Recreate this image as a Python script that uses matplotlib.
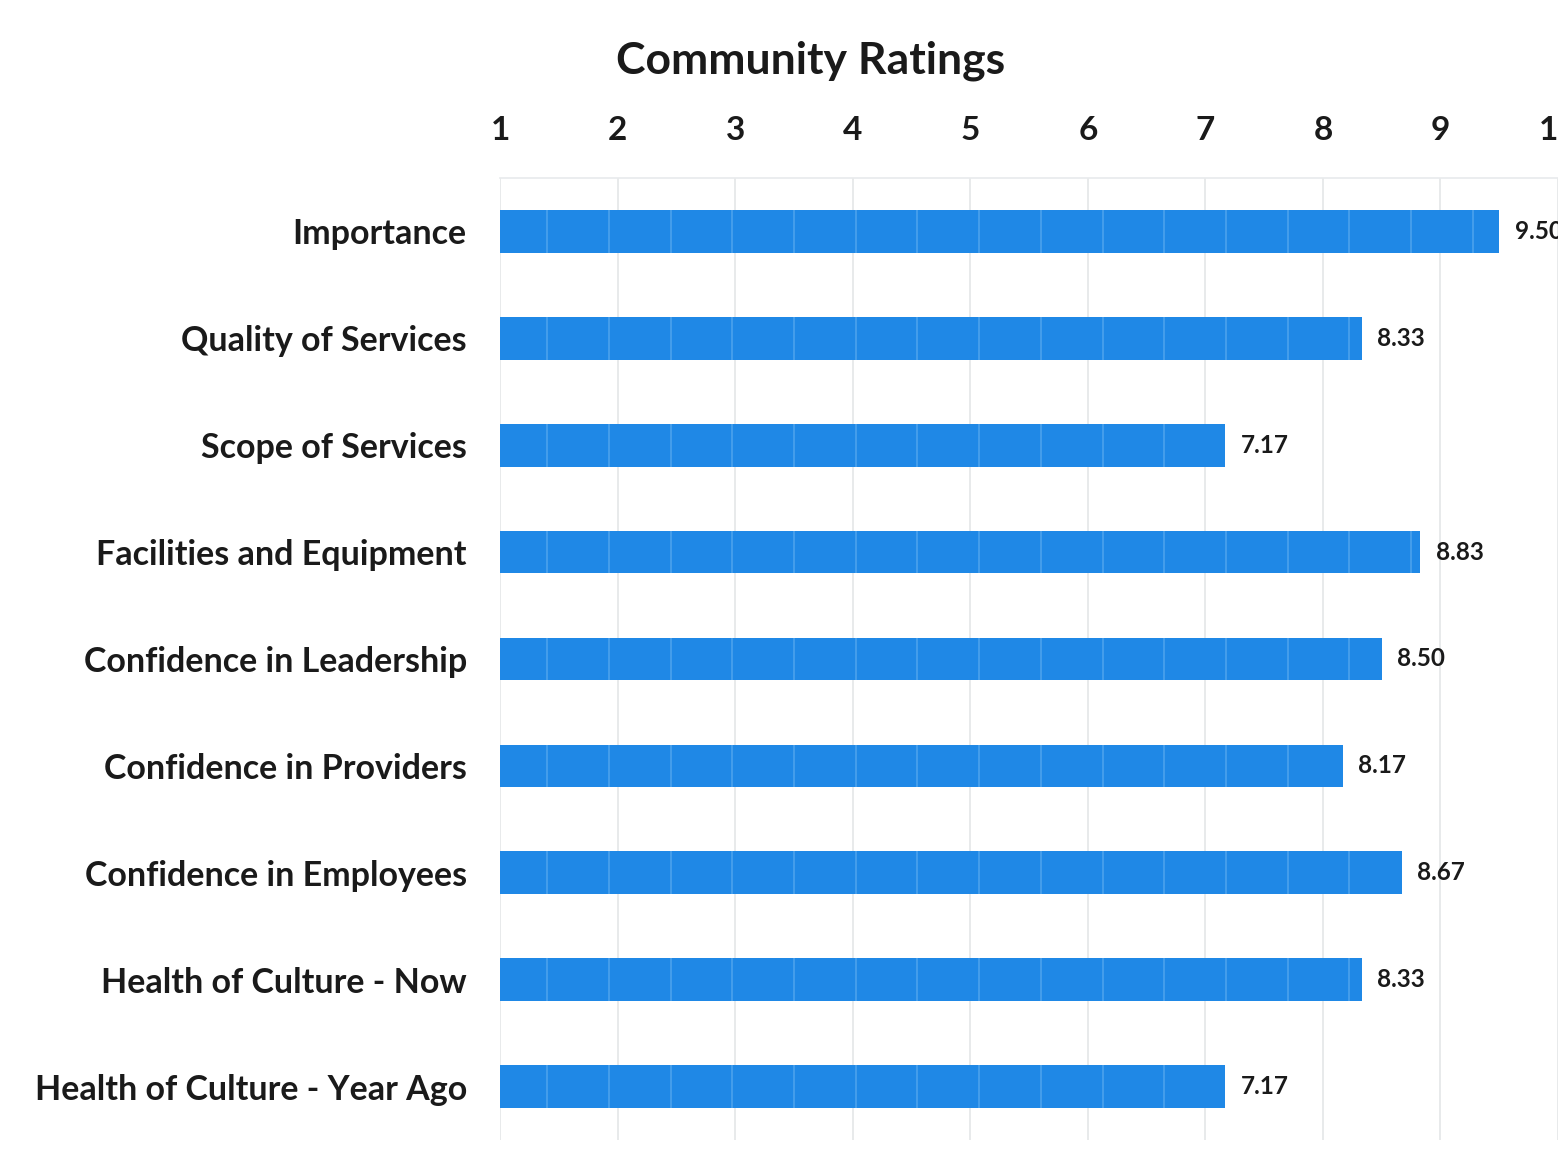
import matplotlib.pyplot as plt

categories = [
    "Importance",
    "Quality of Services",
    "Scope of Services",
    "Facilities and Equipment",
    "Confidence in Leadership",
    "Confidence in Providers",
    "Confidence in Employees",
    "Health of Culture - Now",
    "Health of Culture - Year Ago",
]
ratings = [9.50, 8.33, 7.17, 8.83, 8.50, 8.17, 8.67, 8.33, 7.17]
scale_ticks = [1, 2, 3, 4, 5, 6, 7, 8, 9, 10]

bar_color = "#1f88e6"
plt.rcParams["font.family"] = ["Lato", "DejaVu Sans"]

fig = plt.figure(figsize=(15.58, 11.6), dpi=100)
ax = fig.add_axes([0.321, 0.0172, 0.679, 0.8294])

ypos = list(range(len(categories)))
# bars start at 1, the bottom of the rating scale
bars = ax.barh(ypos, [r - 1 for r in ratings], left=1, height=0.40,
               color=bar_color, zorder=2)

# faint light streaks across the bars
x = 1.40
while x < 10:
    for b in bars:
        ln = ax.axvline(x, color="#7fc0f5", lw=1.2, alpha=0.45, zorder=3)
        ln.set_clip_path(b)
    x += 0.525

for y, r in zip(ypos, ratings):
    ax.text(r + 0.13, y, f"{r:.2f}", va="center", ha="left",
            fontsize=17.5, fontweight="bold", color="#1a1a1a", clip_on=False)

ax.set_xlim(1, 10)
ax.set_ylim(len(categories) - 0.5, -0.5)
ax.xaxis.tick_top()
ax.set_xticks(scale_ticks)
ax.set_xticklabels([str(t) for t in scale_ticks], fontsize=24,
                   fontweight="bold", color="#1a1a1a")
ax.tick_params(axis="x", length=0, pad=24)
ax.set_yticks(ypos)
ax.set_yticklabels(categories, fontsize=24.5, fontweight="bold",
                   color="#1a1a1a")
ax.tick_params(axis="y", length=0, pad=24)

ax.grid(axis="x", color="#e4e6e8", lw=1.2, zorder=0)
for s in ["left", "right", "bottom"]:
    ax.spines[s].set_visible(False)
ax.spines["top"].set_color("#e8eaec")
ax.spines["top"].set_linewidth(1.2)

fig.text(0.52, 0.948, "Community Ratings", ha="center", va="center",
         fontsize=32, fontweight="bold", color="#1a1a1a")

fig.savefig("out.png", dpi=100)
